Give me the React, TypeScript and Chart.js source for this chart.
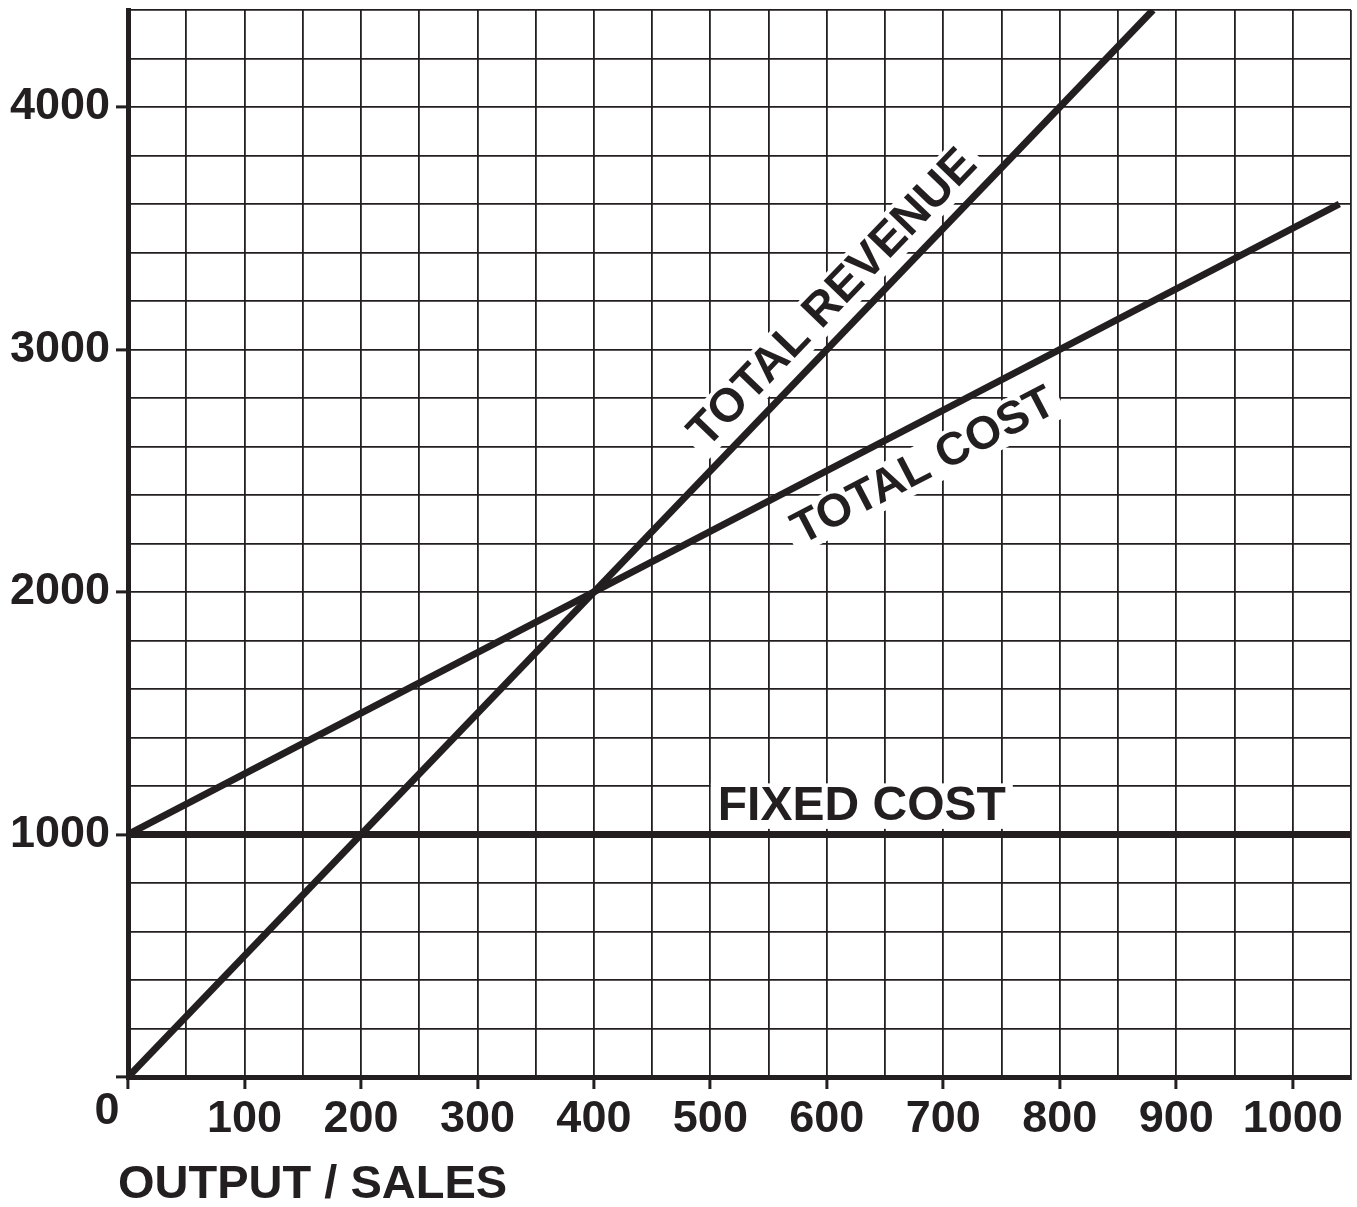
import { useEffect, useRef } from "react";
import { Chart, registerables } from "chart.js";

Chart.register(...registerables);

const INK = "#231f20";
const FONT = '"Liberation Sans", Arial, Helvetica, sans-serif';

// Axis ranges and steps
const xRange = [0, 1050];
const yRange = [0, 4400];
const xGridStep = 50;
const yGridStep = 200;
const xLabelStep = 100;
const yLabelStep = 1000;

// Series: output / sales (x) against money value (y)
const fixedCostX = [0, 1050];
const fixedCostY = [1000, 1000];
const totalCostX = [0, 1040];
const totalCostY = [1000, 3600];
const totalRevenueX = [0, 880];
const totalRevenueY = [0, 4400];

const seriesNames = ["FIXED COST", "TOTAL COST", "TOTAL REVENUE"];
const xAxisTitle = "OUTPUT / SALES";
const originLabel = "0";

// Where each in-chart line label sits (data coordinates of its centre)
const lineLabels = [
  { series: 2, x: 605, y: 3212, size: 47 },
  { series: 1, x: 683, y: 2520, size: 46 },
  { series: 0, x: 630, y: 1117, size: 48 },
];

const toPoints = (xs: number[], ys: number[]) => xs.map((x, i) => ({ x, y: ys[i] }));

const lineLabelPlugin = {
  id: "lineLabels",
  afterDatasetsDraw(chart: any) {
    const { ctx } = chart;
    const xs = chart.scales.x;
    const ys = chart.scales.y;
    ctx.save();
    lineLabels.forEach((l) => {
      const pts = chart.data.datasets[l.series].data;
      const a = pts[0];
      const b = pts[pts.length - 1];
      const ax = xs.getPixelForValue(a.x);
      const ay = ys.getPixelForValue(a.y);
      const bx = xs.getPixelForValue(b.x);
      const by = ys.getPixelForValue(b.y);
      const angle = Math.atan2(by - ay, bx - ax);
      const cx = xs.getPixelForValue(l.x);
      const cy = ys.getPixelForValue(l.y);
      const text = seriesNames[l.series];
      ctx.save();
      ctx.translate(cx, cy);
      ctx.rotate(angle);
      ctx.font = `bold ${l.size}px ${FONT}`;
      const w = ctx.measureText(text).width;
      const h = l.size * 0.74;
      ctx.fillStyle = "#ffffff";
      ctx.fillRect(-w / 2 - 7, -h / 2 - 5, w + 14, h + 10);
      ctx.fillStyle = INK;
      ctx.textAlign = "center";
      ctx.textBaseline = "middle";
      ctx.fillText(text, 0, 1);
      ctx.restore();
    });
    ctx.restore();
  },
  afterDraw(chart: any) {
    const { ctx } = chart;
    const xs = chart.scales.x;
    ctx.save();
    ctx.fillStyle = INK;
    ctx.textBaseline = "middle";
    ctx.font = `bold 45px ${FONT}`;
    ctx.textAlign = "center";
    ctx.fillText(originLabel, xs.getPixelForValue(0) - 21, xs.top + 35);
    ctx.font = `bold 47px ${FONT}`;
    ctx.textAlign = "left";
    ctx.fillText(xAxisTitle, xs.left - 10, xs.top + 108);
    ctx.restore();
  },
};

export default function App() {
  const canvasRef = useRef<HTMLCanvasElement | null>(null);

  useEffect(() => {
    if (!canvasRef.current) return;
    const lineStyle = {
      showLine: true,
      borderColor: INK,
      backgroundColor: INK,
      borderWidth: 7,
      pointRadius: 0,
      fill: false,
      tension: 0,
    };
    const chart = new Chart(canvasRef.current, {
      type: "scatter",
      data: {
        datasets: [
          { label: seriesNames[0], data: toPoints(fixedCostX, fixedCostY), ...lineStyle },
          { label: seriesNames[1], data: toPoints(totalCostX, totalCostY), ...lineStyle },
          { label: seriesNames[2], data: toPoints(totalRevenueX, totalRevenueY), ...lineStyle },
        ],
      },
      options: {
        animation: false,
        responsive: true,
        maintainAspectRatio: false,
        events: [],
        layout: { padding: { top: 10, right: 6, left: 0, bottom: 0 } },
        plugins: { legend: { display: false }, tooltip: { enabled: false } },
        scales: {
          x: {
            type: "linear",
            min: xRange[0],
            max: xRange[1],
            afterFit: (s: any) => {
              s.height = 130;
            },
            ticks: {
              stepSize: xGridStep,
              autoSkip: false,
              maxRotation: 0,
              minRotation: 0,
              padding: 4,
              color: INK,
              font: { family: FONT, size: 45, weight: "bold" },
              callback: (v: any) => (v % xLabelStep === 0 && v !== 0 ? String(v) : ""),
            },
            grid: {
              color: INK,
              lineWidth: 1.8,
              tickLength: 12,
              tickWidth: 3,
              tickColor: (c: any) => (c.tick && c.tick.value % xLabelStep === 0 ? INK : "rgba(0,0,0,0)"),
            },
            border: { color: INK, width: 5 },
          },
          y: {
            type: "linear",
            min: yRange[0],
            max: yRange[1],
            afterFit: (s: any) => {
              s.width = 128;
            },
            ticks: {
              stepSize: yGridStep,
              autoSkip: false,
              padding: 6,
              color: INK,
              font: { family: FONT, size: 45, weight: "bold", lineHeight: 0.1 },
              callback: (v: any) => (v % yLabelStep === 0 && v !== 0 ? String(v) : ""),
            },
            grid: {
              color: INK,
              lineWidth: 1.8,
              tickLength: 12,
              tickWidth: 3,
              tickColor: (c: any) => (c.tick && c.tick.value % yLabelStep === 0 ? INK : "rgba(0,0,0,0)"),
            },
            border: { color: INK, width: 5 },
          },
        },
      },
      plugins: [lineLabelPlugin],
    } as any);
    return () => chart.destroy();
  }, []);

  return (
    <div style={{ position: "absolute", left: 0, top: 0, width: 1357, height: 1207, background: "#fff" }}>
      <canvas ref={canvasRef} />
    </div>
  );
}
